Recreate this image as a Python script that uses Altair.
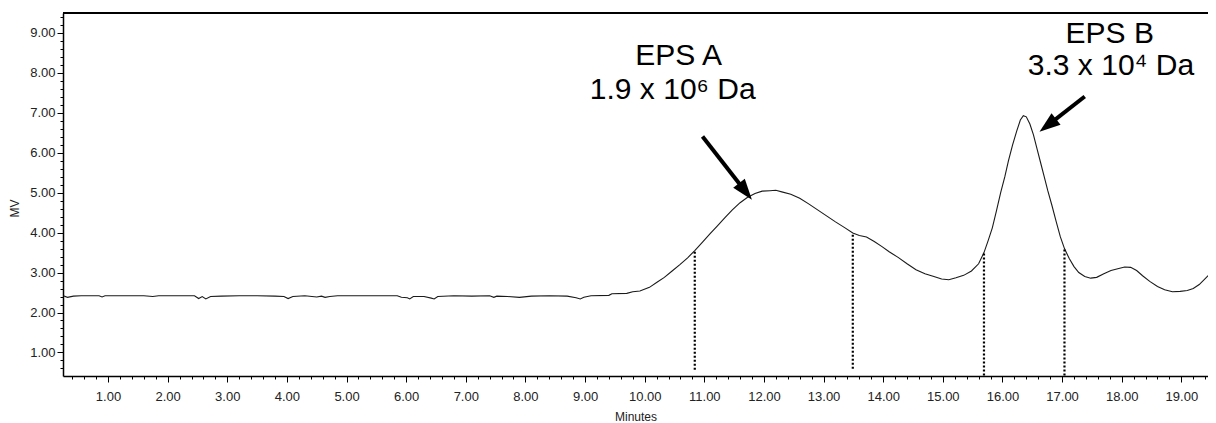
import altair as alt
import pandas as pd

# ---- chromatogram trace (Minutes vs MV) ----
minutes = [0.25, 0.32, 0.42, 0.55, 0.85, 0.9, 0.95, 1.3, 1.6, 1.75, 1.85, 2.2, 2.45, 2.52, 2.58,
           2.64, 2.72, 2.9, 3.2, 3.5, 3.8, 3.95, 4.02, 4.1, 4.3, 4.5, 4.58, 4.64, 4.72, 4.85,
           5.2, 5.5, 5.85, 5.92, 6.02, 6.06, 6.12, 6.3, 6.42, 6.47, 6.53, 6.8, 7.1, 7.4, 7.47,
           7.52, 7.7, 7.9, 8.1, 8.4, 8.7, 8.85, 8.92, 8.98, 9.1, 9.4, 9.45, 9.7, 9.8, 9.92,
           10.08, 10.2, 10.33, 10.46, 10.59, 10.72, 10.84, 10.97, 11.09, 11.22, 11.35, 11.47,
           11.6, 11.72, 11.85, 11.97, 12.1, 12.2, 12.3, 12.45, 12.6, 12.75, 12.9, 13.05, 13.2,
           13.36, 13.49, 13.6, 13.72, 13.85, 13.98, 14.1, 14.25, 14.4, 14.55, 14.7, 14.85,
           14.98, 15.1, 15.22, 15.35, 15.48, 15.6, 15.69, 15.76, 15.83, 15.9, 15.97, 16.04,
           16.1, 16.17, 16.24, 16.3, 16.35, 16.4, 16.46, 16.52, 16.58, 16.64, 16.7, 16.76,
           16.83, 16.9, 16.97, 17.04, 17.12, 17.2, 17.28, 17.38, 17.48, 17.58, 17.7, 17.82,
           17.95, 18.05, 18.15, 18.25, 18.35, 18.47, 18.6, 18.72, 18.85, 18.98, 19.1, 19.2,
           19.3, 19.4, 19.5, 19.58]
mv = [2.42, 2.38, 2.41, 2.42, 2.42, 2.39, 2.42, 2.42, 2.42, 2.40, 2.42, 2.42, 2.42, 2.35, 2.40,
      2.34, 2.40, 2.41, 2.42, 2.42, 2.41, 2.40, 2.35, 2.40, 2.42, 2.39, 2.41, 2.38, 2.40, 2.42,
      2.42, 2.42, 2.42, 2.38, 2.37, 2.34, 2.40, 2.40, 2.36, 2.34, 2.40, 2.42, 2.41, 2.42, 2.38,
      2.41, 2.40, 2.38, 2.41, 2.42, 2.41, 2.37, 2.34, 2.38, 2.42, 2.43, 2.47, 2.48, 2.52, 2.54,
      2.63, 2.75, 2.88, 3.04, 3.20, 3.37, 3.55, 3.76, 3.96, 4.17, 4.38, 4.57,
      4.75, 4.88, 4.98, 5.04, 5.05, 5.06, 5.02, 4.96, 4.86, 4.72, 4.57, 4.42, 4.27,
      4.12, 3.99, 3.93, 3.89, 3.78, 3.65, 3.52, 3.38, 3.22, 3.07, 2.97, 2.90,
      2.84, 2.82, 2.87, 2.93, 3.04, 3.22, 3.50, 3.80, 4.12, 4.55, 5.00, 5.40,
      5.80, 6.20, 6.55, 6.82, 6.93, 6.90, 6.72, 6.45, 6.10, 5.75, 5.40, 5.05,
      4.68, 4.28, 3.90, 3.60, 3.35, 3.15, 3.00, 2.90, 2.86, 2.88, 2.97, 3.05,
      3.10, 3.14, 3.13, 3.05, 2.92, 2.78, 2.65, 2.57, 2.52, 2.53, 2.55, 2.60,
      2.70, 2.85, 3.00, 3.15]

# ---- dotted fraction cuts ----
cut_minutes = [10.84, 13.49, 15.69, 17.04]
cut_top = [3.52, 3.95, 3.48, 3.58]
cut_bottom = [0.55, 0.55, 0.42, 0.42]

# ---- annotations ----
label_text = ["EPS A", "1.9 x 10\u2076 Da", "EPS B", "3.3 x 10\u2074 Da"]
label_x = [10.57, 10.47, 17.8, 17.82]
label_y = [8.43, 7.58, 8.98, 8.18]

arrow_start_x = [10.97, 17.38]
arrow_start_y = [6.41, 7.41]
arrow_head_x = [11.69, 16.76]
arrow_head_y = [5.03, 6.685]
arrow_angle = [142, 232]

# ---- axis ticks ----
x_major = list(range(1, 20))
y_major = list(range(1, 10))
x_minor = [round(0.2 * i, 1) for i in range(2, 98)]
y_minor = [round(0.2 * i, 1) for i in range(3, 48)]
x_domain = [0.245, 19.447]
y_domain = [0.41, 9.5]

W, H = 1145, 363
FONT = "Liberation Sans"

curve = pd.DataFrame({"t": minutes, "mv": mv})
cuts = pd.DataFrame({"t": cut_minutes, "mv": cut_top, "mv2": cut_bottom})
labels = pd.DataFrame({"t": label_x, "mv": label_y, "text": label_text})
arrows = pd.DataFrame({"t": arrow_start_x, "mv": arrow_start_y,
                       "t2": arrow_head_x, "mv2": arrow_head_y, "ang": arrow_angle})

common = dict(domainColor="black", domainWidth=1.5, tickColor="black", tickWidth=1, grid=False,
              labelFont=FONT, labelFontSize=13, labelColor="#222", labelOverlap=False,
              labelFlush=False)

x_axis = alt.Axis(values=x_major, format=".2f", tickSize=6, orient="bottom",
                  title="Minutes", titleFontSize=12, titleFontWeight="normal", titleFont=FONT,
                  titleColor="#222", titleY=44, titleBaseline="alphabetic",
                  labelPadding=8, **common)
y_axis = alt.Axis(values=y_major, format=".2f", tickSize=6, orient="left",
                  title="MV", titleFontSize=12, titleFontWeight="normal", titleFont=FONT,
                  titleColor="#222", titleAngle=270, titleX=-49, titleY=195,
                  titleAlign="center", titleBaseline="middle",
                  labelPadding=2, **common)
x_minor_axis = alt.Axis(values=x_minor, tickSize=3, labels=False, domain=False, title=None,
                        orient="bottom", tickColor="black", grid=False)
y_minor_axis = alt.Axis(values=y_minor, tickSize=3, labels=False, domain=False, title=None,
                        orient="left", tickColor="black", grid=False)

xs = alt.Scale(domain=x_domain, nice=False, zero=False)
ys = alt.Scale(domain=y_domain, nice=False, zero=False)

line = alt.Chart(curve).mark_line(color="#1a1a1a", strokeWidth=1.1, clip=True).encode(
    x=alt.X("t:Q", scale=xs, axis=x_axis),
    y=alt.Y("mv:Q", scale=ys, axis=y_axis),
)

cut_rules = alt.Chart(cuts).mark_rule(color="black", strokeWidth=2.2, strokeDash=[2, 2]).encode(
    x=alt.X("t:Q", scale=xs, axis=x_minor_axis),
    y=alt.Y("mv:Q", scale=ys, axis=y_minor_axis),
    y2="mv2:Q",
)

arrow_lines = alt.Chart(arrows).mark_rule(color="black", strokeWidth=4).encode(
    x=alt.X("t:Q", axis=None), y=alt.Y("mv:Q", axis=None), x2="t2:Q", y2="mv2:Q"
)
arrow_heads = alt.Chart(arrows).mark_point(
    shape="M0,-1L0.7,1L-0.7,1Z", filled=True, color="black", opacity=1, size=440
).encode(
    x=alt.X("t2:Q", axis=None), y=alt.Y("mv2:Q", axis=None),
    angle=alt.Angle("ang:Q", scale=None),
)

texts = alt.Chart(labels).mark_text(
    font=FONT, fontSize=30, color="black", align="center", baseline="middle"
).encode(x=alt.X("t:Q", axis=None), y=alt.Y("mv:Q", axis=None), text="text:N")

top_border = alt.Chart(curve).mark_rule(color="black", strokeWidth=2).encode(
    x=alt.value(0), x2=alt.value(W), y=alt.value(0)
)

chart = alt.layer(line, cut_rules, arrow_lines, arrow_heads, texts, top_border).resolve_axis(
    x="independent", y="independent"
).properties(
    width=W, height=H,
    autosize=alt.AutoSizeParams(type="none"),
    padding={"left": 55, "top": 5, "right": 0, "bottom": 47},
    background="white",
).configure_view(stroke=None)

chart.save("out.html", embed_options={"renderer": "svg", "actions": False})
